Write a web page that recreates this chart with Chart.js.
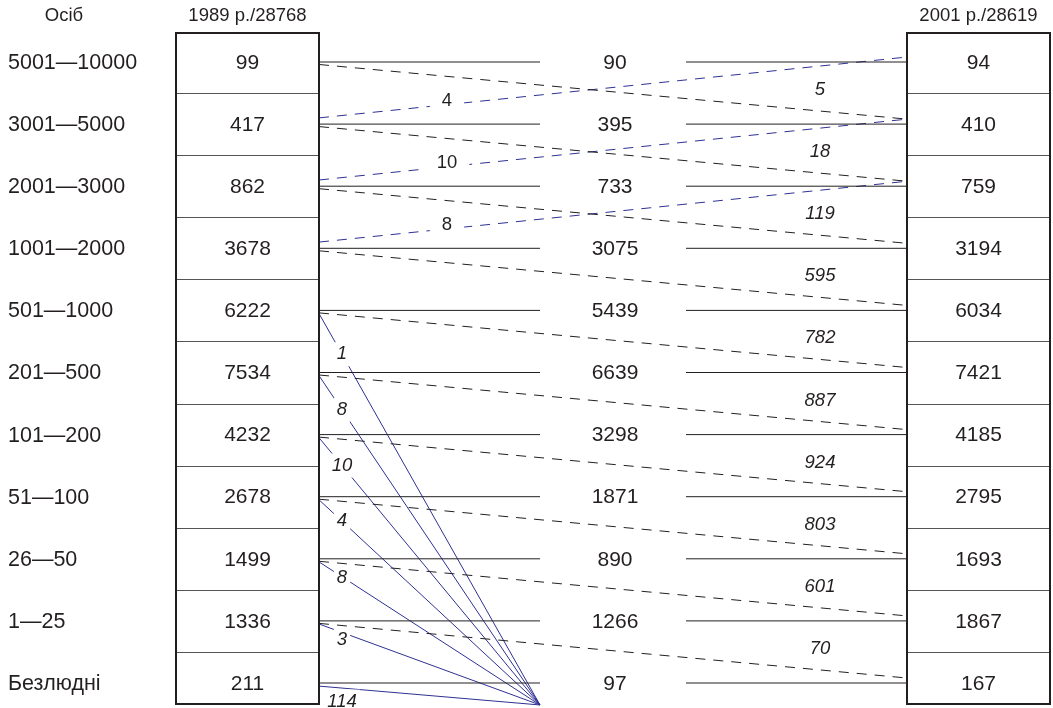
<!DOCTYPE html>
<html><head><meta charset="utf-8">
<script src="https://cdn.jsdelivr.net/npm/chart.js@4.4.0/dist/chart.umd.min.js"></script>
<style>html,body{margin:0;padding:0;background:#fff}#wrap{width:1053px;height:708px;position:relative}</style>
</head><body><div id="wrap"><canvas id="c"></canvas></div>
<script>
// ---- data ----
const categories = ['5001—10000','3001—5000','2001—3000','1001—2000','501—1000','201—500','101—200','51—100','26—50','1—25','Безлюдні'];
const count1989 = [99,417,862,3678,6222,7534,4232,2678,1499,1336,211];
const unchanged = [90,395,733,3075,5439,6639,3298,1871,890,1266,97];
const count2001 = [94,410,759,3194,6034,7421,4185,2795,1693,1867,167];
const downFlows = [5,18,119,595,782,887,924,803,601,70];   // row i (1989) -> row i+1 (2001)
const upFlows = [4,10,8];                                   // row i+1 (1989) -> row i (2001)
const lostFlows = [1,8,10,4,8,3,114];                       // disappeared
const lostFrom = [4,5,6,7,8,9,10];
const headers = ['Осіб','1989 р./28768','2001 р./28619'];

// ---- layout / style ----
const TEXT = '#231f20', BLUE = '#2e3192', GRID = '#555555';
const FONT = '"Liberation Sans", Arial, sans-serif';
const X = {labels:8, head0:64, boxL:176, boxLR:319, midLEnd:540, midText:615, midRStart:686, boxR:907, boxRR:1050, down:820, up:447, lost:342, sink:540};
const ROW0 = 62, ROWH = 62.1;
const yMin = -ROW0/ROWH, yMax = (708-ROW0)/ROWH;
const BOX_TOP = -0.467, BOX_BOT = 10.338, SINK_Y = 10.354;

const datasets = [];
function seg(x1,y1,x2,y2,color,dash,tag){
  datasets.push({data:[{x:x1,y:y1},{x:x2,y:y2}], borderColor:color, borderWidth:1,
    borderDash:dash||[], showLine:true, pointRadius:0, fill:false, tag:tag});
}
categories.forEach((c,i)=>{ seg(X.boxLR,i,X.midLEnd,i,TEXT); seg(X.midRStart,i,X.boxR,i,TEXT); });
downFlows.forEach((v,i)=> seg(X.boxLR,i+0.04,X.boxR,i+0.92,TEXT,[10,8]));
upFlows.forEach((v,i)=> seg(X.boxLR,i+0.9,X.boxR,i-0.08,BLUE,[10,8],'up'+i));
lostFlows.forEach((v,k)=> seg(X.boxLR,lostFrom[k]+0.05,X.sink,SINK_Y,BLUE,null,'lost'+k));

function lineY(ds, x){
  const a = ds.data[0], b = ds.data[1];
  return a.y + (b.y-a.y)*(x-a.x)/(b.x-a.x);
}

const overlay = {
  id:'overlay',
  afterDatasetsDraw(chart){
    const ctx = chart.ctx, sx = chart.scales.x, sy = chart.scales.y;
    const px = v=>sx.getPixelForValue(v), py = v=>sy.getPixelForValue(v);
    ctx.save();
    // boxes
    [[X.boxL,X.boxLR],[X.boxR,X.boxRR]].forEach(([a,b])=>{
      ctx.strokeStyle = GRID; ctx.lineWidth = 1;
      for(let i=0;i<categories.length-1;i++){
        const y = Math.round(py(i+0.5))+0.5;
        ctx.beginPath(); ctx.moveTo(px(a),y); ctx.lineTo(px(b),y); ctx.stroke();
      }
      ctx.strokeStyle = TEXT; ctx.lineWidth = 2;
      ctx.strokeRect(px(a),py(BOX_TOP),px(b)-px(a),py(BOX_BOT)-py(BOX_TOP));
    });
    ctx.fillStyle = TEXT; ctx.textBaseline = 'middle';
    // headers
    ctx.font = '18.5px '+FONT; ctx.textAlign = 'center';
    ctx.fillText(headers[0], px(X.head0), 16);
    ctx.fillText(headers[1], px((X.boxL+X.boxLR)/2), 16);
    ctx.fillText(headers[2], px((X.boxR+X.boxRR)/2), 16);
    // rows
    categories.forEach((c,i)=>{
      const y = py(i)+1;
      ctx.font = '21.5px '+FONT;
      ctx.textAlign = 'left'; ctx.fillText(c, px(X.labels), y);
      ctx.font = '21px '+FONT;
      ctx.textAlign = 'center';
      ctx.fillText(String(count1989[i]), px((X.boxL+X.boxLR)/2), y);
      ctx.fillText(String(unchanged[i]), px(X.midText), y);
      ctx.fillText(String(count2001[i]), px((X.boxR+X.boxRR)/2), y);
    });
    // down flows (italic)
    ctx.font = 'italic 18.5px '+FONT; ctx.textAlign = 'center';
    downFlows.forEach((v,i)=> ctx.fillText(String(v), px(X.down), py(i+0.45)));
    function boxed(t, x, y, padX, padY){
      const w = ctx.measureText(t).width;
      ctx.fillStyle = '#fff';
      ctx.fillRect(x-w/2-padX, y-10-padY, w+2*padX, 20+2*padY);
      ctx.fillStyle = TEXT;
      ctx.fillText(t, x, y);
    }
    // up flows
    ctx.font = '18.5px '+FONT;
    upFlows.forEach((v,i)=>{
      const ds = datasets.find(d=>d.tag==='up'+i);
      boxed(String(v), px(X.up), py(lineY(ds,X.up))-4, 12, 0);
    });
    // lost flows
    ctx.font = 'italic 18.5px '+FONT;
    lostFlows.forEach((v,k)=>{
      const ds = datasets.find(d=>d.tag==='lost'+k);
      const y = Math.max(py(lineY(ds,X.lost)), py(lostFrom[k]+0.3));
      boxed(String(v), px(X.lost), y, 3, 2);
    });
    ctx.restore();
  }
};

new Chart(document.getElementById('c'), {
  type:'scatter',
  data:{datasets},
  options:{
    responsive:true, maintainAspectRatio:false, animation:false,
    layout:{padding:0},
    plugins:{legend:{display:false}, tooltip:{enabled:false}},
    elements:{line:{tension:0}},
    scales:{
      x:{type:'linear', min:0, max:1053, display:false},
      y:{type:'linear', min:yMin, max:yMax, reverse:true, display:false}
    }
  },
  plugins:[overlay]
});
</script></body></html>
